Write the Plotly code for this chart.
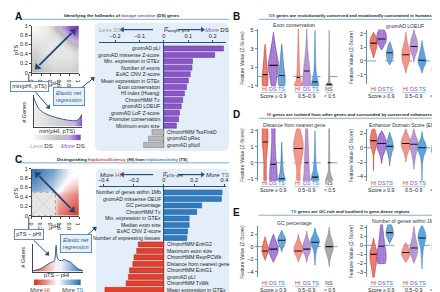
import numpy as np
import plotly.graph_objects as go

W, H = 440, 292
def X(p): return p / W
def Y(p): return 1 - p / H

# ---------------- DATA ----------------
ds_features = ["gnomAD pLI", "gnomAD missense Z-score", "Min. expression in GTEx", "Number of exons",
               "ExAC CNV Z-score", "Mean expression in GTEx", "Exon conservation", "HI index (Huang)",
               "ChromHMM Tx", "gnomAD LOEUF", "gnomAD LoF Z-score", "Promoter conservation",
               "Minimum exon size", "ChromHMM TssFlnkD", "gnomAD pRec", "gnomAD pNull"]
ds_weights = [0.244, 0.208, 0.117, 0.115, 0.108, 0.100, 0.093, 0.084, 0.077, 0.071, 0.064, 0.060,
              0.051, -0.049, -0.063, -0.083]

hits_features = ["Number of genes within 1Mb", "gnomAD missense OEUF", "GC percentage", "ChromHMM Tx",
                 "Min. expression in GTEx", "Median exon size", "ExAC CNV Z-score",
                 "Number of expressing tissues", "ChromHMM EnhG2", "Maximum exon size",
                 "ChromHMM ReprPCWk", "Distance from nearest gene", "ChromHMM EnhG1", "gnomAD pLI",
                 "ChromHMM TxWk", "Mean expression in GTEx"]
hits_weights = [0.385, 0.38, 0.25, 0.217, 0.167, 0.167, 0.157, 0.152, -0.17, -0.18, -0.198, -0.206,
                -0.228, -0.235, -0.25, -0.39]

ds_ticks = [-0.2, -0.1, 0, 0.1, 0.2]
hits_ticks = [-0.4, -0.2, 0, 0.2, 0.4]

# density of min(pHI, pTS)
dens_a_x = [0, 0.03, 0.07, 0.12, 0.2, 0.3, 0.45, 0.6, 0.75, 0.85, 0.92, 0.96, 1.0]
dens_a_y = [0.95, 0.82, 0.68, 0.56, 0.46, 0.38, 0.3, 0.24, 0.2, 0.19, 0.22, 0.3, 0.4]
# density of pTS - pHI
dens_c_x = [-1, -0.85, -0.7, -0.55, -0.4, -0.3, -0.2, -0.14, -0.11, -0.09, -0.07, -0.05, -0.02, 0.05,
            0.15, 0.25, 0.35, 0.5, 0.65, 0.8, 1]
dens_c_y = [0.02, 0.05, 0.1, 0.18, 0.28, 0.33, 0.36, 0.4, 0.5, 0.72, 0.98, 0.72, 0.5, 0.42,
            0.4, 0.45, 0.42, 0.35, 0.22, 0.1, 0.03]

# scatter-density look of pHI vs pTS (rows: pTS low -> high, cols: pHI low -> high)
heat_a = [[0.45, 0.4, 0.35, 0.3, 0.3, 0.3, 0.3, 0.35],
          [0.4, 0.35, 0.3, 0.25, 0.25, 0.25, 0.25, 0.3],
          [0.35, 0.3, 0.25, 0.22, 0.2, 0.2, 0.2, 0.25],
          [0.3, 0.25, 0.22, 0.2, 0.2, 0.2, 0.2, 0.28],
          [0.25, 0.22, 0.2, 0.2, 0.2, 0.22, 0.28, 0.42],
          [0.2, 0.2, 0.2, 0.2, 0.22, 0.3, 0.48, 0.62],
          [0.12, 0.15, 0.18, 0.22, 0.32, 0.52, 0.72, 0.82],
          [0.05, 0.1, 0.15, 0.3, 0.55, 0.72, 0.9, 1.0]]
heat_c = [[0, 0, 0, 0, -0.6, -0.7, -0.8, -0.9],
          [0, 0, 0, 0, -0.5, -0.6, -0.7, -0.8],
          [0, 0, 0, 0, -0.4, -0.5, -0.6, -0.7],
          [0, 0, 0, 0, -0.3, -0.4, -0.5, -0.6],
          [0.6, 0.5, 0.4, 0.3, 0.05, -0.2, -0.3, -0.4],
          [0.7, 0.6, 0.5, 0.4, 0.2, 0.0, -0.15, -0.2],
          [0.8, 0.7, 0.6, 0.5, 0.3, 0.15, 0.0, -0.05],
          [0.9, 0.8, 0.7, 0.6, 0.4, 0.2, 0.05, 0.0]]
strip_vals = [0, 0.1, 0.2, 0.3, 0.4, 0.5, 0.6, 0.7, 0.8, 0.9, 1.0]

group_names = ["HI", "DS", "TS", "HI", "DS", "TS", "NS"]
group_slots = [1, 2, 3, 5, 6, 7, 8.7]

# violins: (y levels, half-widths, median)
exon_cons = [
    ([-1, -0.6, 0, 0.5, 1, 2, 3, 3.5], [0.3, 0.35, 0.35, 0.3, 0.25, 0.15, 0.08, 0], 0.2),
    ([-1, -0.5, 0, 0.5, 1, 1.5, 2, 2.5, 3, 4, 4.8], [0.25, 0.35, 0.45, 0.55, 0.6, 0.6, 0.5, 0.4, 0.3, 0.12, 0], 1.2),
    ([-1, -0.5, 0, 0.5, 1, 2, 3, 3.5], [0.35, 0.4, 0.4, 0.32, 0.25, 0.15, 0.06, 0], 0.1),
    ([-1, -0.8, -0.5, 0, 1, 2, 3, 4, 5.2], [0.45, 0.45, 0.3, 0.2, 0.14, 0.1, 0.07, 0.05, 0], -0.1),
    ([-1, -0.5, 0, 0.5, 1, 1.5, 2, 3, 4, 5.2], [0.45, 0.48, 0.45, 0.4, 0.35, 0.3, 0.22, 0.12, 0.06, 0], 0.6),
    ([-1, -0.7, -0.3, 0, 0.5, 1, 2, 3, 4, 5], [0.45, 0.4, 0.3, 0.22, 0.14, 0.1, 0.07, 0.05, 0.03, 0], -0.6),
    ([-1, -0.85, -0.6, 0, 1, 2, 3, 4, 5], [0.45, 0.35, 0.12, 0.07, 0.05, 0.04, 0.03, 0.02, 0], -0.85),
]
loeuf = [
    ([0.2, 0.6, 1.0, 1.3, 1.6, 1.9, 2.1], [0, 0.2, 0.4, 0.45, 0.4, 0.2, 0], 1.3),
    ([0.8, 1.1, 1.4, 1.7, 2.0, 2.3, 2.45], [0, 0.3, 0.55, 0.6, 0.55, 0.3, 0], 1.6),
    ([-0.3, 0, 0.3, 0.6, 0.9, 1.2, 1.4], [0, 0.25, 0.4, 0.42, 0.3, 0.15, 0], 0.6),
    ([-0.9, -0.5, -0.1, 0.3, 0.6, 1.0, 1.5, 2.1], [0, 0.15, 0.4, 0.5, 0.5, 0.35, 0.15, 0], 0.45),
    ([-0.1, 0.3, 0.7, 1.0, 1.3, 1.7, 2.0, 2.3], [0, 0.15, 0.4, 0.5, 0.45, 0.3, 0.12, 0], 1.05),
    ([-0.9, -0.5, -0.2, 0.05, 0.3, 0.7, 1.1, 1.5], [0, 0.2, 0.45, 0.5, 0.4, 0.25, 0.1, 0], 0.05),
    ([-1.75, -1.3, -0.9, -0.6, -0.3, 0.1, 0.6, 1.2, 1.8], [0, 0.2, 0.4, 0.45, 0.4, 0.25, 0.12, 0.05, 0], -0.6),
]
dist_gene = [
    ([-1.1, -0.8, 0, 0.8, 1.3, 1.8, 2.2], [0.15, 0.15, 0.15, 0.25, 0.35, 0.35, 0.3], 1.3),
    ([-1.1, -0.7, -0.2, 0.3, 0.8, 1.3, 1.8, 2.2], [0.45, 0.45, 0.4, 0.3, 0.25, 0.2, 0.2, 0.2], -0.1),
    ([-1.1, -0.9, -0.6, 0, 0.6, 1.3], [0.45, 0.35, 0.2, 0.1, 0.05, 0], -1.0),
    ([-1.1, -0.5, 0, 0.5, 0.9, 1.3, 1.7, 2.2], [0.2, 0.2, 0.3, 0.5, 0.6, 0.55, 0.4, 0.15], 0.9),
    ([-1.1, -0.8, -0.3, 0.3, 1, 1.6, 2.2], [0.45, 0.35, 0.3, 0.25, 0.2, 0.15, 0.1], 0.0),
    ([-1.1, -0.8, -0.5, 0, 0.6, 1.2, 2.0], [0.45, 0.4, 0.22, 0.12, 0.07, 0.04, 0], -0.9),
    ([-1.1, -0.9, -0.5, 0, 0.8, 1.6, 2.2], [0.45, 0.3, 0.1, 0.08, 0.06, 0.05, 0.03], 0.0),
]
eds = [
    ([-3.2, -1, 0, 0.7, 1.2, 1.8, 2.5, 2.7], [0, 0.05, 0.3, 0.4, 0.42, 0.35, 0.2, 0], 1.0),
    ([-2.2, -1.2, -0.5, 0, 0.6, 1.2, 1.8, 2.4], [0, 0.15, 0.4, 0.55, 0.6, 0.5, 0.3, 0], 0.6),
    ([-2.5, -1.5, -0.6, 0, 0.3, 0.9, 1.6, 2.2], [0, 0.1, 0.3, 0.45, 0.45, 0.35, 0.15, 0], 0.2),
    ([-2.0, -1.2, -0.4, 0.2, 0.7, 1.2, 2.0, 2.7], [0, 0.12, 0.35, 0.55, 0.6, 0.5, 0.2, 0], 0.6),
    ([-3.0, -1.8, -0.8, 0, 0.5, 1.0, 1.8, 2.7], [0, 0.12, 0.3, 0.5, 0.55, 0.45, 0.2, 0], 0.5),
    ([-4.6, -2.5, -1.2, -0.4, 0.1, 0.6, 1.3, 2.3], [0, 0.05, 0.2, 0.5, 0.55, 0.45, 0.15, 0], 0.0),
    ([-4.0, -2.5, -1.3, -0.6, -0.2, 0.4, 1.2, 2.6], [0, 0.08, 0.25, 0.5, 0.55, 0.45, 0.2, 0], -0.3),
]
gc_pct = [
    ([-2.2, -1.5, -1.0, -0.6, -0.2, 0.4, 1.0, 1.6], [0, 0.2, 0.35, 0.4, 0.35, 0.25, 0.12, 0], -0.7),
    ([-2.5, -1.8, -1.1, -0.5, 0, 0.6, 1.3, 2.0], [0, 0.25, 0.5, 0.58, 0.55, 0.4, 0.2, 0], -0.4),
    ([-0.8, -0.2, 0.5, 1.0, 1.5, 2.0, 2.6], [0, 0.15, 0.4, 0.48, 0.4, 0.2, 0], 1.0),
    ([-2.5, -1.7, -1.1, -0.6, -0.1, 0.6, 1.2, 2.0], [0, 0.2, 0.45, 0.55, 0.5, 0.3, 0.12, 0], -0.7),
    ([-2.5, -1.6, -0.9, -0.3, 0.3, 0.9, 1.6, 2.5], [0, 0.15, 0.4, 0.5, 0.45, 0.3, 0.12, 0], -0.4),
    ([-3.0, -1.5, -0.5, 0.3, 0.8, 1.3, 2.0, 3.0], [0, 0.08, 0.2, 0.45, 0.55, 0.45, 0.2, 0], 0.7),
    ([-3.2, -2.0, -1.0, -0.3, 0.3, 1.0, 2.0, 3.1], [0, 0.12, 0.35, 0.5, 0.5, 0.35, 0.12, 0], 0.0),
]
genes_1mb = [
    ([-3.7, -2.5, -1.8, -1.2, -0.8, -0.3, 0.3, 0.8], [0.05, 0.25, 0.4, 0.45, 0.45, 0.3, 0.12, 0], -1.0),
    ([-2.0, -1.5, -1.0, -0.5, 0, 0.7, 1.5, 2.3], [0.45, 0.55, 0.55, 0.5, 0.4, 0.3, 0.2, 0.1], -0.1),
    ([0.2, 0.7, 1.1, 1.5, 1.9, 2.3], [0, 0.25, 0.45, 0.45, 0.35, 0.2], 1.4),
    ([-1.9, -1.4, -1.0, -0.6, -0.2, 0.3], [0, 0.35, 0.55, 0.5, 0.3, 0], -0.8),
    ([-2.0, -1.4, -0.8, -0.3, 0.3, 0.9, 1.6, 2.1], [0, 0.25, 0.45, 0.5, 0.35, 0.2, 0.08, 0], -0.3),
    ([-2.6, -1.5, -0.5, 0.3, 0.8, 1.3, 1.8, 2.2], [0, 0.06, 0.15, 0.35, 0.5, 0.45, 0.25, 0], 0.8),
    ([-2.6, -1.8, -1.0, -0.4, 0.1, 0.7, 1.5, 2.3], [0, 0.15, 0.35, 0.45, 0.45, 0.35, 0.15, 0], -0.1),
]

# ---------------- STYLE ----------------
FONT = "Liberation Sans, Arial, sans-serif"
C_HI, C_DS, C_TS = "#e23b2c", "#8a4fc8", "#2f7fc1"
NAVY = "#24527f"
AXBLUE = "#5b8fc0"
g_fill = ["#e03a2b", "#7a3cc2", "#2a7bbf", "#f2968a", "#b898d4", "#5ea3da", "#a9a9a9"]
g_tint = ["#f0a095", "#c2a2e0", "#96bfe6", None, None, None, None]
g_edge = ["#c02e21", "#5a2a96", "#1d5e98", "#d9604f", "#8c68b0", "#2f7cc0", "#7f7f7f"]
lab_col = [C_HI, C_DS, C_TS, C_HI, C_DS, C_TS, "#444"]

fig = go.Figure()
layout = {}
shapes = []
annots = []

def ref(n):
    return ("x", "y") if n == 1 else (f"x{n}", f"y{n}")

def set_axes(n, xd, yd, xa, ya):
    xk = "xaxis" if n == 1 else f"xaxis{n}"
    yk = "yaxis" if n == 1 else f"yaxis{n}"
    xr, yr = ref(n)
    base = dict(showgrid=False, zeroline=False, fixedrange=True)
    layout[xk] = {**base, "domain": [X(xd[0]), X(xd[1])], "anchor": yr, **xa}
    layout[yk] = {**base, "domain": [Y(yd[1]), Y(yd[0])], "anchor": xr, **ya}

def ann(x, y, text, size=5.5, color="#222", xanchor="center", yanchor="middle", **kw):
    annots.append(dict(x=X(x), y=Y(y), xref="paper", yref="paper", text=text, showarrow=False,
                       font=dict(size=size, color=color, family=FONT), xanchor=xanchor,
                       yanchor=yanchor, **kw))

def arrow(hx, hy, tx, ty, color=NAVY, width=1.2, size=1):
    shapes.append(dict(type="line", xref="paper", yref="paper", x0=X(tx), y0=Y(ty), x1=X(hx),
                       y1=Y(hy), line=dict(color=color, width=width)))
    ang = float(np.degrees(np.arctan2(hx - tx, -(hy - ty))))
    fig.add_trace(go.Scatter(x=[X(hx)], y=[Y(hy)], mode="markers", xaxis="x20", yaxis="y20",
                             marker=dict(symbol="triangle-up", size=5 * size, angle=ang, color=color),
                             hoverinfo="skip", cliponaxis=False))

def pline(x0, y0, x1, y1, color, width=0.8, dash="solid"):
    shapes.append(dict(type="line", xref="paper", yref="paper", x0=X(x0), y0=Y(y0), x1=X(x1),
                       y1=Y(y1), line=dict(color=color, width=width, dash=dash)))

def rrect(x0, y0, x1, y1, r, fill, line=None):
    p = (f"M {X(x0+r)},{Y(y0)} L {X(x1-r)},{Y(y0)} Q {X(x1)},{Y(y0)} {X(x1)},{Y(y0+r)} "
         f"L {X(x1)},{Y(y1-r)} Q {X(x1)},{Y(y1)} {X(x1-r)},{Y(y1)} L {X(x0+r)},{Y(y1)} "
         f"Q {X(x0)},{Y(y1)} {X(x0)},{Y(y1-r)} L {X(x0)},{Y(y0+r)} Q {X(x0)},{Y(y0)} {X(x0+r)},{Y(y0)} Z")
    shapes.append(dict(type="path", path=p, xref="paper", yref="paper", fillcolor=fill,
                       line=dict(width=0.8 if line else 0, color=line or fill), layer="below"))

layout["xaxis20"] = dict(domain=[0, 1], range=[0, 1], visible=False, anchor="y20", fixedrange=True)
layout["yaxis20"] = dict(domain=[0, 1], range=[0, 1], visible=False, anchor="x20", fixedrange=True)

# ---------------- background boxes ----------------
rrect(84, 12, 220, 143, 6, "#e4eef8")
rrect(85, 161, 220, 291, 6, "#e4eef8")

# ---------------- bar charts ----------------
def bar_panel(n, xd, yd, xrange, ticks, feats, weights, pos_col, neg_col, pos_line, neg_line):
    xr, yr = ref(n)
    idx = list(range(len(feats)))
    cols = [pos_col if w > 0 else neg_col for w in weights]
    lcols = [pos_line if w > 0 else neg_line for w in weights]
    fig.add_trace(go.Bar(x=weights, y=idx, orientation="h", width=0.78,
                         marker=dict(color=cols, line=dict(color=lcols, width=0.5)),
                         xaxis=xr, yaxis=yr, hoverinfo="skip"))
    set_axes(n, xd, yd,
             dict(range=xrange, side="top", tickvals=ticks, ticks="outside", ticklen=2, tickwidth=0.6,
                  tickcolor=NAVY, showline=True, linecolor=NAVY, linewidth=0.8, zeroline=True,
                  zerolinecolor=NAVY, zerolinewidth=1.1, tickfont=dict(size=5.6, color="#222", family=FONT)),
             dict(range=[len(feats) - 0.5, -0.8], visible=False))
    for i, (f, w) in enumerate(zip(feats, weights)):
        annots.append(dict(x=-0.006 if w > 0 else 0.006, y=i, xref=xr, yref=yr, text=f, showarrow=False,
                           xanchor="right" if w > 0 else "left", yanchor="middle",
                           font=dict(size=5.1, color="#222", family=FONT)))

bar_panel(1, (88, 217), (33, 140), [-0.2667, 0.2545], ds_ticks, ds_features, ds_weights,
          "#8c55c9", "#b8b8b8", "#5d2f92", "#777777")
bar_panel(2, (88, 217), (180, 288), [-0.4305, 0.411], hits_ticks, hits_features, hits_weights,
          "#2f7cc0", "#e2402f", "#1d5a94", "#a82a1d")

# bar headers
ann(100, 19, "<i>Less</i> DS", 6, "#999", xanchor="center")
arrow(112, 19, 143, 19)
ann(152, 18.5, "β̂<sub>weight, pTS</sub>", 6, "#222", xanchor="left")
arrow(193, 19, 168, 19)
ann(208, 19, f"<i><span style='color:{C_DS}'>More</span></i> DS", 6, "#222")
ann(100, 167, f"<i>More</i> <span style='color:{C_HI}'>HI</span>", 6, "#222")
arrow(112, 167, 143, 167)
ann(151, 166.5, "β̂<sub>pTS−pHI</sub>", 6, "#222", xanchor="left")
arrow(193, 167, 168, 167)
ann(208, 167, f"<i>More</i> <span style='color:{C_TS}'>TS</span>", 6, "#222")

# ---------------- left insets ----------------
tick01 = [0, 0.2, 0.4, 0.6, 0.8, 1]
tick01_t = ["0", "0.2", "0.4", "0.6", "0.8", "1"]
inset_ax = dict(range=[0, 1], tickvals=tick01, ticktext=tick01_t, ticks="outside", ticklen=2,
                tickwidth=0.6, showline=True, linecolor="#444", linewidth=0.8, mirror=False,
                tickfont=dict(size=5.5, color="#222", family=FONT))
centers = [0.0625, 0.1875, 0.3125, 0.4375, 0.5625, 0.6875, 0.8125, 0.9375]

# A heatmap
fig.add_trace(go.Heatmap(z=heat_a, x=centers, y=centers, zsmooth="best", showscale=False, zmin=0, zmax=1,
                         colorscale=[[0, "#ffffff"], [0.2, "#e6e6e6"], [0.45, "#b9b9b9"],
                                     [0.6, "#c9b2e2"], [1, "#7a3fc0"]],
                         xaxis="x3", yaxis="y3", hoverinfo="skip"))
set_axes(3, (20, 68), (15, 63), dict(inset_ax), dict(inset_ax))
shapes.append(dict(type="line", xref="x3", yref="y3", x0=0.16, y0=0.16, x1=0.84, y1=0.84,
                   line=dict(color="#1f4670", width=1.8)))
fig.add_trace(go.Scatter(x=[0.12, 0.88], y=[0.12, 0.88], mode="markers", xaxis="x3", yaxis="y3",
                         marker=dict(symbol="triangle-up", size=7, angle=[225, 45], color="#1f4670"),
                         hoverinfo="skip", cliponaxis=False))
ann(44, 74, "pHI", 5.8)
ann(4, 39, "pTS", 5.8, textangle=-90)

# A density
fig.add_trace(go.Scatter(x=dens_a_x, y=dens_a_y, mode="lines", fill="tozeroy",
                         fillgradient=dict(type="horizontal",
                                           colorscale=[[0, "#eeeeee"], [0.55, "#cfcfcf"], [0.85, "#c7b5e0"], [1, "#8450c6"]]),
                         line=dict(color=NAVY, width=0.9, shape="spline"), xaxis="x4", yaxis="y4",
                         hoverinfo="skip"))
set_axes(4, (22, 71), (86, 118),
         dict(range=[0, 1], showline=True, linecolor="#444", linewidth=0.8, showticklabels=False),
         dict(range=[0, 1.02], showline=True, linecolor="#444", linewidth=0.8, showticklabels=False))
ann(46, 122.5, "<i>min</i>(pHI, pTS)", 5.8)
ann(12, 103, "# Genes", 5.5, textangle=-90)

# A color strip
fig.add_trace(go.Heatmap(z=[strip_vals], x=strip_vals, y=[0], zsmooth="best", showscale=False,
                         colorscale=[[0, "#f2f2f2"], [0.5, "#c0c0c0"], [0.75, "#c8b4e0"], [1, "#7f45c4"]],
                         xaxis="x5", yaxis="y5", hoverinfo="skip"))
fig.add_trace(go.Scatter(x=[-0.08, 1.08], y=[0, 0], mode="markers",
                         marker=dict(symbol=["triangle-left", "triangle-right"], size=9,
                                     color=["#d8d8d8", "#7f45c4"]),
                         xaxis="x5", yaxis="y5", hoverinfo="skip", cliponaxis=False))
set_axes(5, (22, 70), (126, 132), dict(range=[-0.05, 1.05], visible=False),
         dict(range=[-0.5, 0.5], visible=False))
ann(30, 137.5, "<i>Less</i> <span style='color:#333'>DS</span>", 6, "#aaa")
ann(62, 137.5, f"<i>More</i> <span style='color:#333'>DS</span>", 6, C_DS)

# A connectors
ann(18, 77, "min(pHI, pTS)", 5.5, "#222", bordercolor="#3b78b0", borderwidth=0.8, borderpad=1.5,
    bgcolor="#ffffff")
ann(58, 87.5, "<i>Elastic net<br>regression</i>", 5.5, "#2a5a8a", bordercolor="#3b78b0",
    borderwidth=0.8, borderpad=2, bgcolor="#e8f1fa")
pline(17, 64, 17, 72, NAVY, 1)
arrow(37, 98, 24, 83, width=1)
arrow(82, 69, 71, 78, width=1)

# C heatmap
fig.add_trace(go.Heatmap(z=heat_c, x=centers, y=centers, zsmooth="best", showscale=False, zmin=-1, zmax=1,
                         colorscale=[[0, "#d7301f"], [0.5, "#ffffff"], [1, "#2166ac"]],
                         xaxis="x6", yaxis="y6", hoverinfo="skip"))
set_axes(6, (20, 68), (161, 209), dict(inset_ax), dict(inset_ax))
shapes.append(dict(type="rect", xref="x6", yref="y6", x0=0, y0=0, x1=0.5, y1=0.5,
                   fillcolor="#e6e6e6", line=dict(color="#888", width=0.8, dash="dot")))
shapes.append(dict(type="line", xref="x6", yref="y6", x0=0, y0=0, x1=0.5, y1=0.5,
                   line=dict(color="#c8c8c8", width=0.6)))
shapes.append(dict(type="line", xref="x6", yref="y6", x0=0, y0=0.5, x1=0.5, y1=0,
                   line=dict(color="#c8c8c8", width=0.6)))
shapes.append(dict(type="line", xref="x6", yref="y6", x0=0.16, y0=0.84, x1=0.82, y1=0.16,
                   line=dict(color="#1f4670", width=1.8)))
fig.add_trace(go.Scatter(x=[0.12, 0.86], y=[0.88, 0.12], mode="markers", xaxis="x6", yaxis="y6",
                         marker=dict(symbol="triangle-up", size=7, angle=[315, 135], color="#1f4670"),
                         hoverinfo="skip", cliponaxis=False))
ann(44, 220, "pHI", 5.8)
ann(4, 185, "pTS", 5.8, textangle=-90)

# C density
fig.add_trace(go.Scatter(x=dens_c_x, y=dens_c_y, mode="lines", fill="tozeroy",
                         fillgradient=dict(type="horizontal",
                                           colorscale=[[0, "#d9402f"], [0.45, "#f8eeee"], [0.55, "#eef3f9"], [1, "#2f74b5"]]),
                         line=dict(color=NAVY, width=0.9), xaxis="x7", yaxis="y7", hoverinfo="skip"))
set_axes(7, (21, 72), (238, 266),
         dict(range=[-1, 1], showline=True, linecolor="#444", linewidth=0.8, showticklabels=False),
         dict(range=[0, 1.02], showline=True, linecolor="#444", linewidth=0.8, showticklabels=False))
ann(46, 270, "pTS − pHI", 5.6)
ann(11, 251, "# Genes", 5.5, textangle=-90)

# C color strip
fig.add_trace(go.Heatmap(z=[strip_vals], x=strip_vals, y=[0], zsmooth="best", showscale=False,
                         colorscale=[[0, "#d9402f"], [0.5, "#ffffff"], [1, "#2f74b5"]],
                         xaxis="x8", yaxis="y8", hoverinfo="skip"))
fig.add_trace(go.Scatter(x=[-0.08, 1.08], y=[0, 0], mode="markers",
                         marker=dict(symbol=["triangle-left", "triangle-right"], size=9,
                                     color=["#d9402f", "#2f74b5"]),
                         xaxis="x8", yaxis="y8", hoverinfo="skip", cliponaxis=False))
set_axes(8, (22, 70), (274, 280), dict(range=[-0.05, 1.05], visible=False),
         dict(range=[-0.5, 0.5], visible=False))
ann(28, 285, f"<i>More</i> <span style='color:{C_HI}'>HI</span>", 5.6, "#333")
ann(62, 285, f"<i>More</i> <span style='color:{C_TS}'>TS</span>", 5.6, "#333")

ann(17, 228, "pTS − pHI", 5.5, "#222", bordercolor="#3b78b0", borderwidth=0.8, borderpad=1.5,
    bgcolor="#ffffff")
ann(65, 237, "<i>Elastic net<br>regression</i>", 5.5, "#2a5a8a", bordercolor="#3b78b0",
    borderwidth=0.8, borderpad=2, bgcolor="#e8f1fa")
pline(17, 210, 17, 223, NAVY, 1)
arrow(36, 248, 22, 234, width=1)
arrow(84, 222, 76, 229, width=1)

# ---------------- violin panels ----------------
def violin_panel(n, xd, yd, yrange, yticks, violins, title, lab_y):
    xr, yr = ref(n)
    for k, (slot, (ys, ws, med)) in enumerate(zip(group_slots, violins)):
        xs = [slot + w for w in ws] + [slot - w for w in ws[::-1]]
        yy = list(ys) + list(ys[::-1])
        extra = {}
        if g_tint[k]:
            extra["fillpattern"] = dict(shape=".", fgcolor=g_fill[k], bgcolor=g_tint[k], size=2.5,
                                        solidity=0.7)
        fig.add_trace(go.Scatter(x=xs + [xs[0]], y=yy + [yy[0]], mode="lines", fill="toself",
                                 fillcolor=g_fill[k],
                                 line=dict(color=g_edge[k], width=0.5, shape="spline", smoothing=0.3),
                                 xaxis=xr, yaxis=yr, hoverinfo="skip", **extra))
        wm = max(float(np.interp(med, ys, ws)) * 0.85, 0.18)
        fig.add_trace(go.Scatter(x=[slot - wm, slot + wm], y=[med, med], mode="lines",
                                 line=dict(color="#111", width=1.1), xaxis=xr, yaxis=yr,
                                 hoverinfo="skip"))
    right = xd[0] > 300
    xrange = [0.2, 9.85] if right else [0.1, 9.7]
    set_axes(n, xd, yd, dict(range=xrange, visible=False),
             dict(range=yrange, tickvals=yticks, ticks="outside", ticklen=2, tickwidth=0.6,
                  tickcolor=AXBLUE, showline=True, linecolor=AXBLUE, linewidth=1,
                  tickfont=dict(size=5.5, color="#222", family=FONT)))
    shapes.append(dict(type="line", xref=f"{xr} domain", yref=yr, x0=0, x1=1, y0=0, y1=0,
                       line=dict(color="#4a8fc0", width=0.8, dash="dash"), layer="below"))
    xc = 398 if right else 286
    ann(xc, yd[0] - 4, title, 5.1, "#333")
    ann(xd[0] - 16, (yd[0] + yd[1]) / 2, "Feature Value (Z-Score)", 5, "#333", textangle=-90)
    def sx(s):
        return xd[0] + (s - xrange[0]) / (xrange[1] - xrange[0]) * (xd[1] - xd[0])
    for s, g, c in zip(group_slots, group_names, lab_col):
        ann(sx(s), lab_y, g, 5.5, c)
    for a, b in [(0.55, 3.45), (4.55, 7.45), (8.25, 9.15)]:
        pline(sx(a), lab_y + 3.3, sx(b), lab_y + 3.3, "#7fb0da", 0.7)
    ann(sx(2), lab_y + 6.8, "Score ≥ 0.9", 5.2, "#222")
    ann(sx(6), lab_y + 6.8, "0.5–0.9", 5.2, "#222")
    ann(sx(8.7), lab_y + 6.8, "&lt; 0.5", 5.0, "#222")

violin_panel(9, (249, 330), (18, 78), [-1.18, 5.18], [-1, 1, 3, 5], exon_cons, "Exon conservation", 80)
violin_panel(10, (360, 439), (19, 75), [-1.72, 2.29], [-1, 0, 1, 2], loeuf, "gnomAD LOEUF", 80)
violin_panel(11, (249, 330), (120, 174), [-1.17, 2.15], [-1, 0, 1, 2], dist_gene, "Distance from nearest gene", 176)
violin_panel(12, (360, 439), (120, 174), [-4.69, 2.69], [-4, -2, 0, 2], eds, "Enhancer Domain Score (EDS)", 176)
violin_panel(13, (249, 330), (220, 272), [-4.9, 3.2], [-4, -2, 0, 2], gc_pct, "GC percentage", 278)
violin_panel(14, (360, 439), (218, 272), [-3.54, 2.29], [-3, -2, -1, 0, 1, 2], genes_1mb, "Number of genes within 1Mb", 278)

# ---------------- section headers ----------------
def header(letter, lx, ly, text, cx, cy, x0, x1):
    ann(lx, ly, f"<b>{letter}</b>", 10, "#111", xanchor="left")
    ann(cx, cy, f"<b>{text}</b>", 4.3, "#222")
    pline(x0, cy + 3.5, x1, cy + 3.5, "#6fa3d2", 0.9)

header("A", 1, 6, f"Identifying the hallmarks of <span style='color:{C_DS}'>dosage sensitive</span> (DS) genes",
       112, 5, 8, 220)
header("C", 1, 152, f"Distinguishing <span style='color:{C_HI}'>haploinsufficiency</span> (HI) from "
       f"<span style='color:{C_TS}'>triplosensitivity</span> (TS)", 112, 151.5, 8, 220)
header("B", 222, 6, f"<span style='color:{C_DS}'>DS</span> genes are evolutionarily conserved and "
       "mutationally constrained in humans.", 344, 5, 250, 440)
header("D", 222, 106, f"<span style='color:{C_HI}'>HI</span> genes are isolated from other genes and "
       "surrounded by conserved enhancers.", 343, 106, 250, 440)
header("E", 222, 206, f"<span style='color:{C_TS}'>TS</span> genes are GC-rich and localized in "
       "gene-dense regions", 343, 205, 250, 440)

fig.update_layout(**layout)
fig.update_layout(width=W, height=H, margin=dict(l=0, r=0, t=0, b=0), showlegend=False,
                  paper_bgcolor="white", plot_bgcolor="rgba(0,0,0,0)",
                  font=dict(family=FONT, size=6, color="#222"),
                  shapes=shapes, annotations=annots)
fig.write_html("out.html")
